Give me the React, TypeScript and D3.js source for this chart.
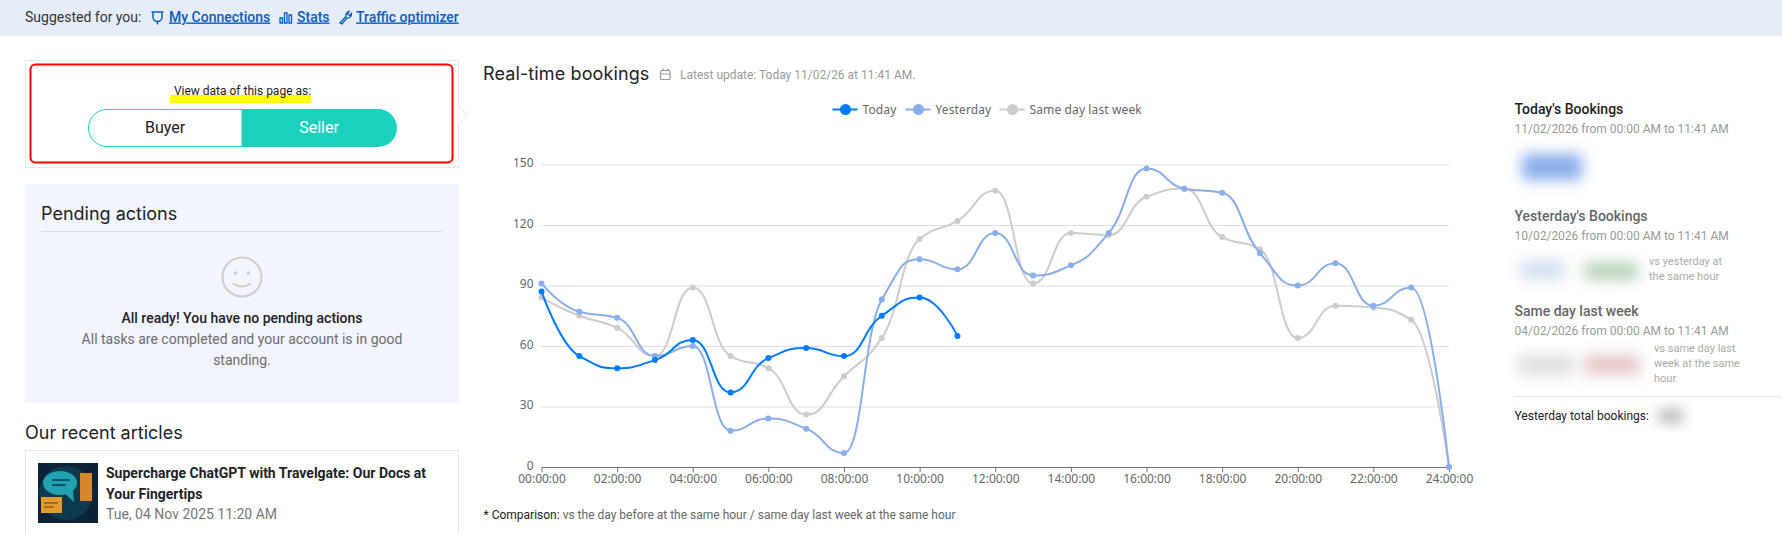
import { useEffect, useRef } from "react";
import * as d3 from "d3";

const HOURS = [
  "00:00:00", "01:00:00", "02:00:00", "03:00:00", "04:00:00", "05:00:00", "06:00:00", "07:00:00", "08:00:00",
  "09:00:00", "10:00:00", "11:00:00", "12:00:00", "13:00:00", "14:00:00", "15:00:00", "16:00:00", "17:00:00",
  "18:00:00", "19:00:00", "20:00:00", "21:00:00", "22:00:00", "23:00:00", "24:00:00",
];
const TODAY = [87, 55, 49, 53, 63, 37, 54, 59, 55, 75, 84, 65];
const YESTERDAY = [91, 77, 74, 55, 60, 18, 24, 19, 7, 83, 103, 98, 116, 95, 100, 116, 148, 138, 136, 106, 90, 101, 80, 89, 0];
const LAST_WEEK = [84, 75, 69, 55, 89, 55, 49, 26, 45, 64, 113, 122, 137, 91, 116, 115, 134, 138, 114, 108, 64, 80, 79, 73, 0];
const Y_TICKS = [0, 30, 60, 90, 120, 150];

const SERIES = [
  { name: "Same day last week", values: LAST_WEEK, color: "#cccccc" },
  { name: "Yesterday", values: YESTERDAY, color: "#8aaee9" },
  { name: "Today", values: TODAY, color: "#007bff" },
];

const UI = "Roboto, sans-serif";
const HEAD = "Inter, sans-serif";
const CHART = "'Noto Sans', sans-serif";
const ARM = 0.5;

// monotone spline with longer handles than d3.curveMonotoneX, flat at every local extreme
function smoothPath(pts: [number, number][]) {
  const p = d3.path();
  const slope = (a: [number, number], b: [number, number]) => (b[1] - a[1]) / (b[0] - a[0]);
  const tangent = (i: number) => {
    if (i === 0 || i === pts.length - 1) return null;
    const s0 = slope(pts[i - 1], pts[i]), s1 = slope(pts[i], pts[i + 1]);
    return s0 * s1 <= 0 ? 0 : (2 * s0 * s1) / (s0 + s1);
  };
  pts.forEach(([x, y], i) => {
    if (i === 0) { p.moveTo(x, y); return; }
    const [px, py] = pts[i - 1];
    const arm = (x - px) * ARM;
    const lo = Math.min(py, y), hi = Math.max(py, y);
    const m0 = tangent(i - 1), m1 = tangent(i);
    const c0y = m0 === null ? py : Math.min(hi, Math.max(lo, py + m0 * arm));
    const c1y = m1 === null ? y : Math.min(hi, Math.max(lo, y - m1 * arm));
    p.bezierCurveTo(m0 === null ? px : px + arm, c0y, m1 === null ? x : x - arm, c1y, x, y);
  });
  return p.toString();
}

function Chart() {
  const ref = useRef<SVGGElement>(null);

  useEffect(() => {
    const el = ref.current;
    if (!el) return;
    const g = d3.select(el);
    g.selectAll("*").remove();

    const x = d3.scalePoint<string>().domain(HOURS).range([541.5, 1449]);
    const y = d3.scaleLinear().domain([0, 150]).range([467, 164.5]);

    const yAxis = g.append("g").attr("transform", "translate(541.5,0)")
      .call(d3.axisLeft(y).tickValues(Y_TICKS).tickSize(-907.5).tickPadding(8));
    yAxis.select(".domain").remove();
    yAxis.selectAll(".tick line").attr("stroke", "#dcdfeb").attr("stroke-width", 1);
    yAxis.selectAll("text").attr("fill", "#666").attr("font-size", 12).attr("font-family", CHART).attr("dy", "0.2em");

    const xAxis = g.append("g").attr("transform", "translate(0,467)")
      .call(d3.axisBottom(x).tickValues(HOURS.filter((_, i) => i % 2 === 0)).tickSize(5).tickSizeOuter(0).tickPadding(2));
    xAxis.select(".domain").attr("stroke", "#6e7079");
    xAxis.selectAll(".tick line").attr("stroke", "#6e7079");
    xAxis.selectAll("text").attr("fill", "#666").attr("font-size", 12).attr("font-family", CHART);

    SERIES.forEach((s) => {
      const pts = s.values.map((v, i) => [x(HOURS[i]) as number, y(v)] as [number, number]);
      g.append("path").attr("d", smoothPath(pts)).attr("fill", "none").attr("stroke", s.color).attr("stroke-width", 2);
      g.append("g").selectAll("circle").data(pts).join("circle")
        .attr("cx", (d) => d[0]).attr("cy", (d) => d[1]).attr("r", 3).attr("fill", s.color);
    });

    // legend
    const legend = [
      { name: "Today", color: "#007bff", x: 832.5 },
      { name: "Yesterday", color: "#8aaee9", x: 905.5 },
      { name: "Same day last week", color: "#cccccc", x: 999.5 },
    ];
    const lg = g.append("g").selectAll("g").data(legend).join("g").attr("transform", (d) => `translate(${d.x},109.5)`);
    lg.append("line").attr("x1", 0).attr("x2", 25).attr("stroke", (d) => d.color).attr("stroke-width", 2);
    lg.append("circle").attr("cx", 13).attr("r", 5.5).attr("fill", (d) => d.color);
    lg.append("text").attr("x", 30).attr("y", 4).attr("font-size", 12).attr("font-family", CHART).attr("letter-spacing", 0.12).attr("fill", "#666").text((d) => d.name);
  }, []);

  return <g ref={ref} />;
}

function T(props: any) {
  const { x, y, size = 14, color = "#222", font = UI, weight = 400, anchor = "start", children, ...rest } = props;
  return (
    <text x={x} y={y} fontSize={size} fill={color} fontFamily={font} fontWeight={weight} textAnchor={anchor} {...rest}>
      {children}
    </text>
  );
}

const LINK = "#0b5cbf";

export default function App() {
  return (
    <svg width={1782} height={533} style={{ position: "absolute", left: 0, top: 0, background: "#fff" }}>
      <defs>
        <filter id="soft" x="-50%" y="-80%" width="200%" height="260%"><feGaussianBlur stdDeviation="7" /></filter>
      </defs>

      {/* top bar */}
      <rect x={0} y={0} width={1782} height={36} fill="#e6edf9" />
      <T x={25} y={22} color="#333">Suggested for you:</T>
      <path d="M153 12v5a4.5 4.5 0 0 0 9 0v-5M151.500 12h12M157.500 21.500v3" fill="none" stroke={LINK} strokeWidth={1.5} />
      <T x={169} y={21.500} color={LINK} weight={500} textDecoration="underline">My Connections</T>
      <path d="M280 18h2.500v5h-2.500zM284.500 13h2.500v10h-2.500zM289 15h2.500v8h-2.500z" fill="none" stroke={LINK} strokeWidth={1.300} />
      <T x={297} y={21.500} color={LINK} weight={500} textDecoration="underline">Stats</T>
      <path d="M340 23l6-6.500a4 4 0 0 1 3-5l-1.500 2.500 2 1.500 2-2a4 4 0 0 1-4.500 4.500l-5 6z" fill="none" stroke={LINK} strokeWidth={1.300} />
      <T x={356} y={21.500} color={LINK} weight={500} textDecoration="underline">Traffic optimizer</T>

      {/* buyer / seller box */}
      <rect x={25.500} y={60.500} width={433} height={107} fill="#fff" stroke="#e5e5e5" />
      <path d="M458.500 106l9 9-9 9" fill="#fff" stroke="#e5e5e5" />
      <rect x={30.500} y={64.500} width={422} height={98} rx={5} fill="none" stroke="#f00" strokeWidth={2} />
      <rect x={170} y={95} width={141} height={8} fill="#ff0" />
      <T x={242.500} y={95} size={12} anchor="middle">View data of this page as:</T>
      <path d="M242 109.500H107a18.500 18.500 0 0 0 0 37h135z" fill="#fff" stroke="#1bd1bd" />
      <path d="M242 109h136a19 19 0 0 1 0 38H242z" fill="#1bd1bd" />
      <T x={165} y={133} size={16} anchor="middle">Buyer</T>
      <T x={319} y={133} size={16} anchor="middle" color="#fff">Seller</T>

      {/* pending actions */}
      <rect x={25} y={184} width={434} height={219} fill="#f2f5fe" />
      <T x={41} y={220} size={18} font={HEAD}>Pending actions</T>
      <line x1={41} x2={442} y1={231.500} y2={231.500} stroke="#d5dcec" />
      <circle cx={242} cy={277} r={19.500} fill="none" stroke="#ccc" strokeWidth={2} />
      <circle cx={235.500} cy={273} r={1.800} fill="#ccc" />
      <circle cx={248.500} cy={273} r={1.800} fill="#ccc" />
      <path d="M233 283.500q9 6 18 0" fill="none" stroke="#ccc" strokeWidth={2} />
      <T x={242} y={323} anchor="middle" weight={500}>All ready! You have no pending actions</T>
      <T x={242} y={344} anchor="middle" color="#6c6c6c">All tasks are completed and your account is in good</T>
      <T x={242} y={365} anchor="middle" color="#6c6c6c">standing.</T>

      {/* articles */}
      <T x={25} y={439} size={18} font={HEAD}>Our recent articles</T>
      <rect x={25.500} y={450.500} width={433} height={100} fill="#fff" stroke="#e5e5e5" />
      <rect x={38} y={463} width={60} height={60} fill="#0a2436" />
      <circle cx={66} cy={493} r={27} fill="#0e3a4e" />
      <ellipse cx={60} cy={483} rx={17} ry={12} fill="#1fa3b3" />
      <path d="M64 493l10 9-1-11z" fill="#1fa3b3" />
      <path d="M52 480h18M52 485h14" stroke="#0e3a4e" strokeWidth={1.500} />
      <rect x={80} y={473} width={12} height={28} fill="#d9872b" />
      <rect x={41} y={497} width={21} height={16} fill="#e39a2e" />
      <path d="M44 503h14M44 507h10" stroke="#6b3d10" strokeWidth={1} />
      <T x={106} y={478} weight={700}>Supercharge ChatGPT with Travelgate: Our Docs at</T>
      <T x={106} y={499} weight={700}>Your Fingertips</T>
      <T x={106} y={519} color="#777">Tue, 04 Nov 2025 11:20 AM</T>

      {/* chart header */}
      <T x={483} y={80} size={18} font={HEAD} letterSpacing={0.12}>Real-time bookings</T>
      <rect x={660.500} y={70.500} width={9.500} height={9} rx={1} fill="none" stroke="#999" strokeWidth={1.200} />
      <path d="M660.500 74h9.500M663 68.500v2M668 68.500v2" stroke="#999" strokeWidth={1.200} />
      <T x={680} y={79} size={12} color="#999">Latest update: Today 11/02/26 at 11:41 AM.</T>

      <Chart />

      <T x={483.500} y={519} size={12} color="#666">
        <tspan fill="#222">* Comparison:</tspan> vs the day before at the same hour / same day last week at the same hour
      </T>

      {/* right column */}
      <T x={1514.500} y={114} weight={500}>Today's Bookings</T>
      <T x={1514.500} y={133} size={12} color="#999">11/02/2026 from 00:00 AM to 11:41 AM</T>
      <g filter="url(#soft)">
        <rect x={1522} y={154} width={60} height={26} fill="#8aaee9" />
      </g>
      <T x={1514.500} y={221} weight={500} color="#666">Yesterday's Bookings</T>
      <T x={1514.500} y={240} size={12} color="#999">10/02/2026 from 00:00 AM to 11:41 AM</T>
      <g filter="url(#soft)">
        <rect x={1520} y={260} width={45} height={20} fill="#d5e0f4" />
        <rect x={1584} y={262} width={54} height={18} fill="#b9d4b9" />
      </g>
      <T x={1649} y={265} size={11} color="#aaa">vs yesterday at</T>
      <T x={1649} y={280} size={11} color="#aaa">the same hour</T>
      <T x={1514.500} y={316} weight={500} color="#666">Same day last week</T>
      <T x={1514.500} y={335} size={12} color="#999">04/02/2026 from 00:00 AM to 11:41 AM</T>
      <g filter="url(#soft)">
        <rect x={1518} y={355} width={56} height={20} fill="#dedede" />
        <rect x={1584} y={355} width={56} height={20} fill="#e6c8c8" />
      </g>
      <T x={1654} y={352} size={11} color="#aaa">vs same day last</T>
      <T x={1654} y={367} size={11} color="#aaa">week at the same</T>
      <T x={1654} y={382} size={11} color="#aaa">hour</T>
      <line x1={1514} x2={1782} y1={396.500} y2={396.500} stroke="#e5e5e5" />
      <T x={1514.500} y={420} size={12}>Yesterday total bookings:</T>
      <g filter="url(#soft)">
        <rect x={1659} y={410} width={24} height={12} fill="#aaa" />
      </g>
    </svg>
  );
}
